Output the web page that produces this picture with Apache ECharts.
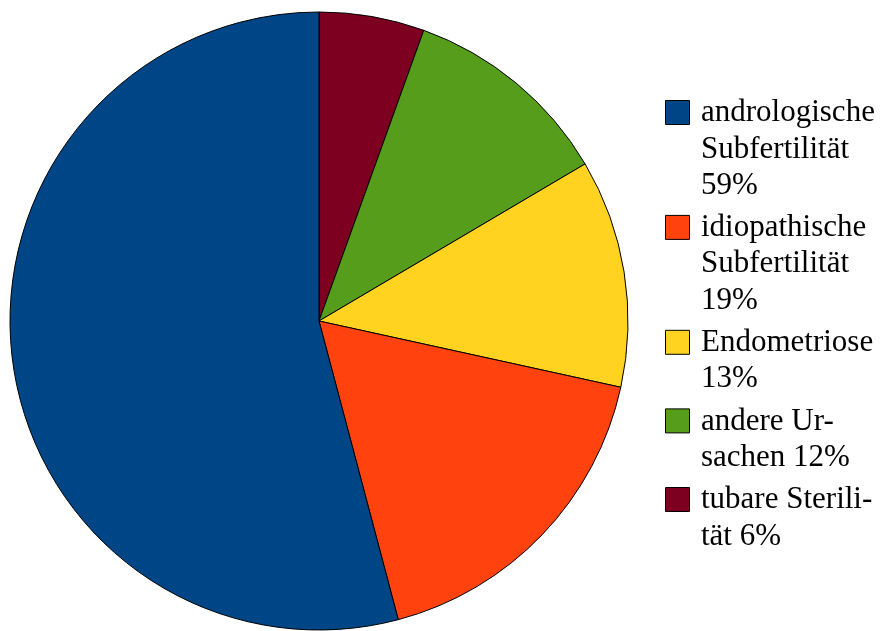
<!DOCTYPE html>
<html>
<head>
<meta charset="utf-8">
<style>
  html, body { margin: 0; padding: 0; background: #ffffff; }
  #chart { width: 882px; height: 631px; }
</style>
<script src="https://cdn.jsdelivr.net/npm/echarts@6/dist/echarts.min.js"></script>
</head>
<body>
<div id="chart"></div>
<script>
// Causes, in legend order (top to bottom)
const categories = [
  'andrologische Subfertilität',
  'idiopathische Subfertilität',
  'Endometriose',
  'andere Ursachen',
  'tubare Sterilität'
];
// Share of each cause, in percent
const values = [59, 19, 13, 12, 6];
// Legend text, with manual line breaks; {v} becomes the value
const legendTexts = [
  'andrologische\nSubfertilität\n{v}%',
  'idiopathische\nSubfertilität\n{v}%',
  'Endometriose\n{v}%',
  'andere Ur-\nsachen {v}%',
  'tubare Sterili-\ntät {v}%'
];
const colors = ['#004586', '#ff420e', '#ffd320', '#579d1c', '#7e0021'];

// Slices run clockwise from 12 o'clock, starting with the last legend entry
const order = [4, 3, 2, 1, 0];
const pieData = order.map(i => ({
  name: categories[i],
  value: values[i],
  itemStyle: { color: colors[i] }
}));

const SERIF = 'Liberation Serif';
const LINE_H = 36.3;
const GAP = 6;
const serifRich = {
  s: { fontFamily: SERIF, fontSize: 31, lineHeight: LINE_H, color: '#000000' }
};

// Legend block on the right: swatch + multi-line text per entry
const legendElems = [];
let y = 100;
categories.forEach((name, i) => {
  const lines = legendTexts[i].replace('{v}', values[i]).split('\n');
  legendElems.push({
    type: 'rect',
    shape: { x: 665.5, y: y + 0.5, width: 24, height: 24 },
    style: { fill: colors[i], stroke: '#000000', lineWidth: 1 }
  });
  legendElems.push({
    type: 'text',
    x: 701,
    y: y - 5,
    style: {
      text: lines.map(l => '{s|' + l + '}').join('\n'),
      rich: serifRich,
      fontFamily: SERIF,
      fontSize: 31,
      fill: '#000000',
      lineHeight: LINE_H,
      verticalAlign: 'top',
      align: 'left'
    }
  });
  y += lines.length * LINE_H + GAP;
});

const chart = echarts.init(document.getElementById('chart'), null, { renderer: 'canvas' });
chart.setOption({
  animation: false,
  backgroundColor: '#ffffff',
  textStyle: { fontFamily: SERIF },
  series: [{
    type: 'pie',
    center: [319, 321],
    radius: [0, 309],
    startAngle: 90,
    clockwise: true,
    avoidLabelOverlap: false,
    label: { show: false },
    labelLine: { show: false },
    emphasis: { disabled: true },
    itemStyle: { borderColor: '#000000', borderWidth: 1 },
    data: pieData
  }],
  graphic: legendElems
});
</script>
</body>
</html>
